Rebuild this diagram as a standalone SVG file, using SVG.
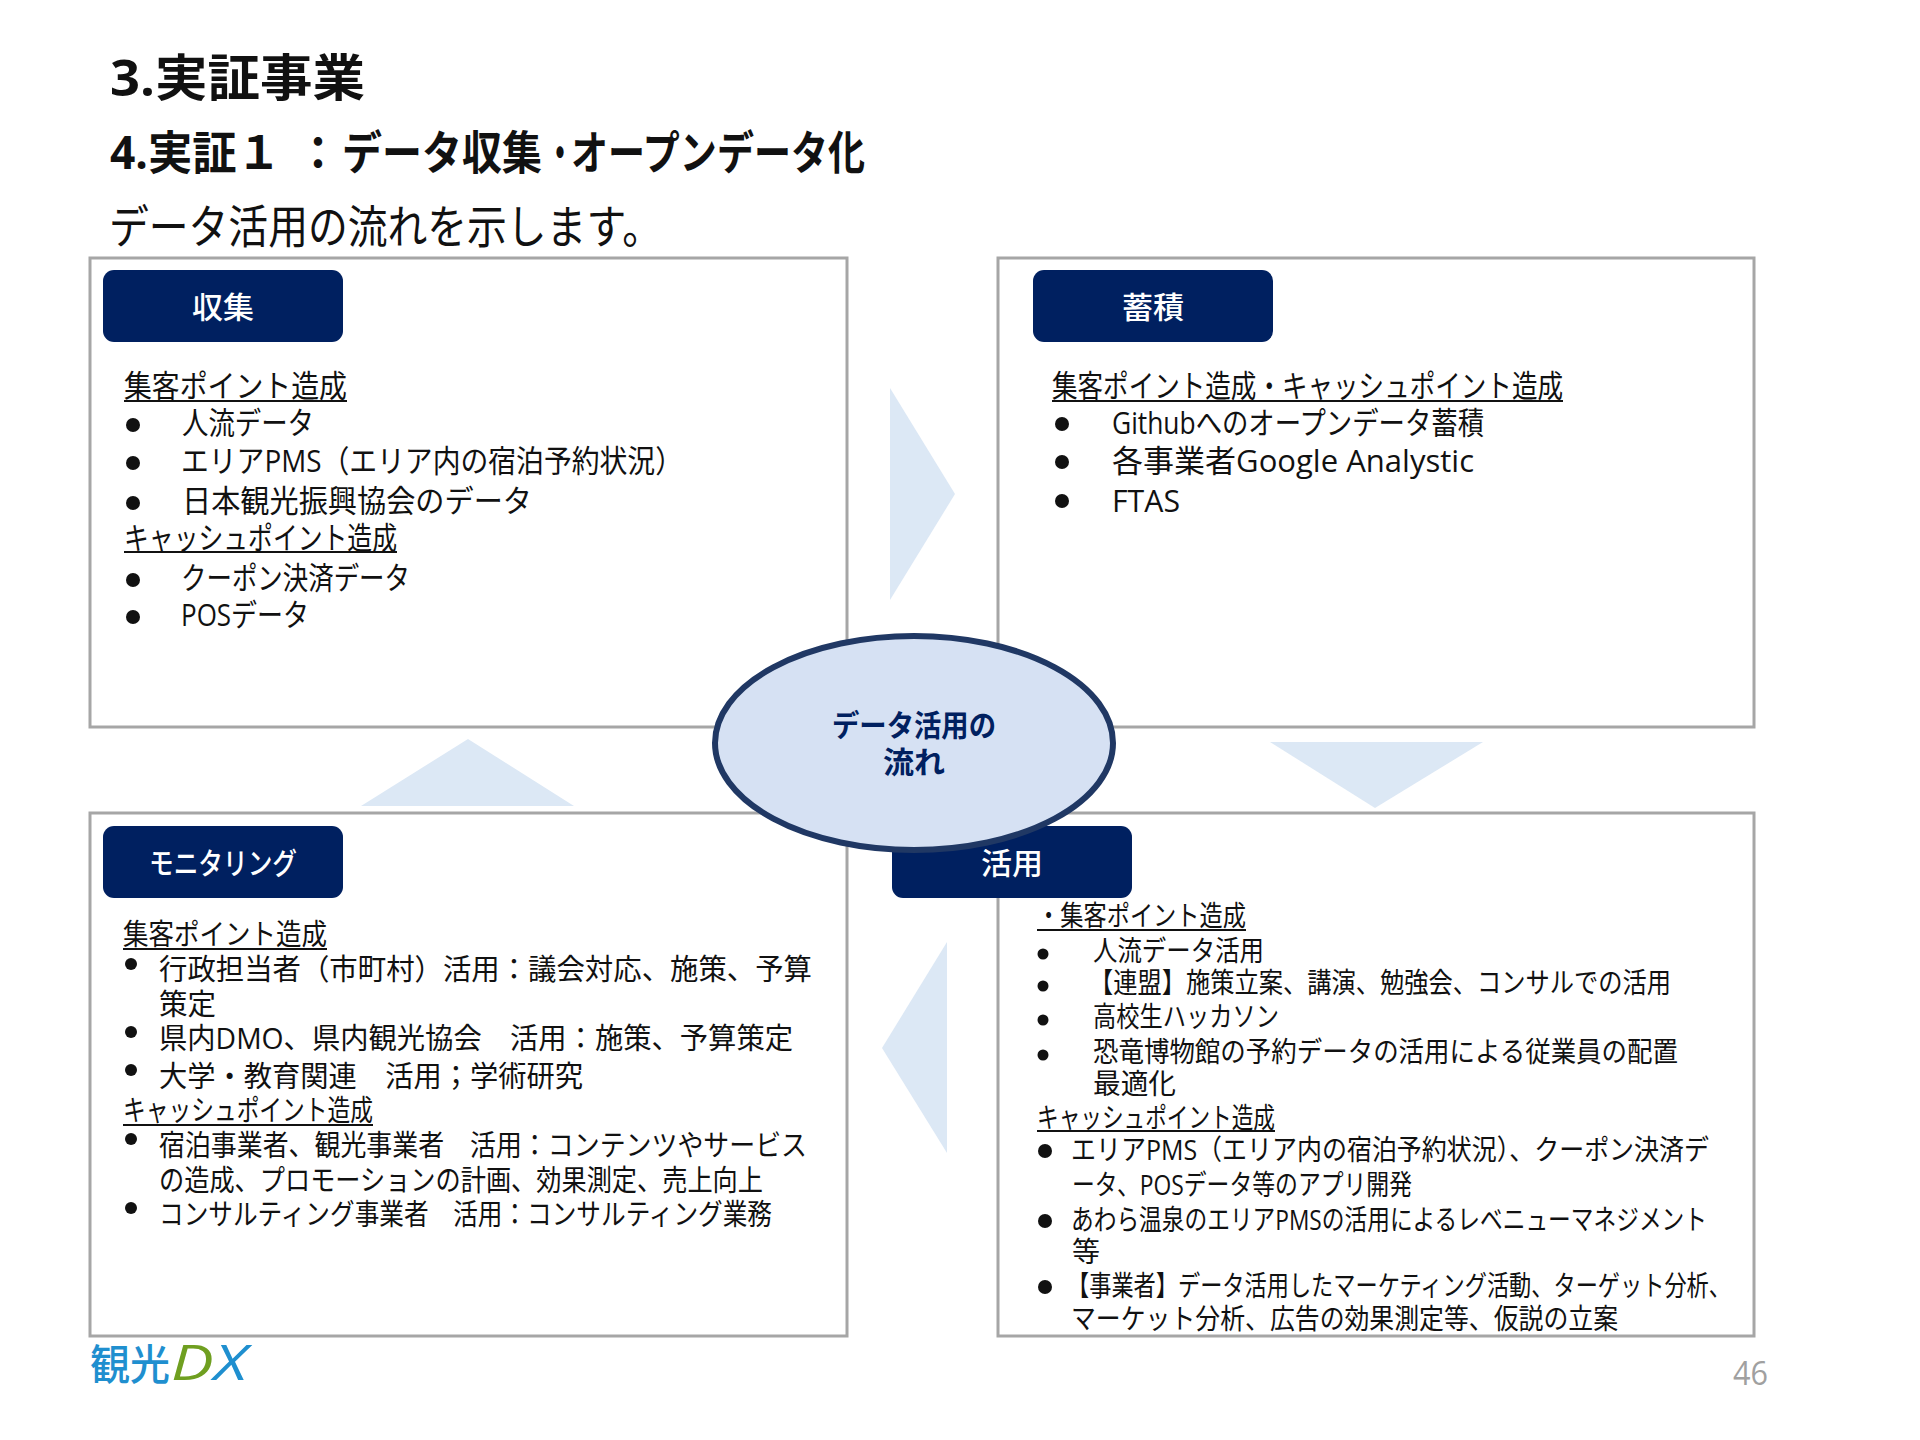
<svg xmlns="http://www.w3.org/2000/svg" width="1920" height="1440" viewBox="0 0 1920 1440">
<style>
text{font-family:"Open Sans","Noto Sans CJK JP",sans-serif;fill:#111}
.h1{font-size:50px;font-weight:700}
.h2{font-size:46px;font-weight:700}
.h3{font-size:46px}
.a{font-size:31px}
.c{font-size:29px}
.d{font-size:28px}
.lab{font-size:30px;font-weight:500;fill:#fff}
.mid{font-size:30px;font-weight:700;fill:#002060}
.pg{font-size:32px;fill:#a0a0a0}
.box{fill:#fff;stroke:#a6a6a6;stroke-width:3}
.tag{fill:#002060}
.arr{fill:#dce8f5}
.ul{stroke:#111;stroke-width:2}
circle{fill:#111}
</style>
<rect width="1920" height="1440" fill="#fff"/>
<g id="title">
<text class="h1" x="110" y="96" textLength="255" lengthAdjust="spacingAndGlyphs">3.実証事業</text>
<text class="h2" y="169"><tspan x="110" textLength="171" lengthAdjust="spacingAndGlyphs">4.実証１</tspan><tspan x="296" textLength="44" lengthAdjust="spacingAndGlyphs">：</tspan><tspan x="342" textLength="200" lengthAdjust="spacingAndGlyphs">データ収集</tspan><tspan x="546" textLength="28" lengthAdjust="spacingAndGlyphs">・</tspan><tspan x="571" textLength="294" lengthAdjust="spacingAndGlyphs">オープンデータ化</tspan></text>
<text class="h3" x="109" y="243" textLength="553" lengthAdjust="spacingAndGlyphs">データ活用の流れを示します。</text>
</g>
<g id="node-collect">
<rect class="box" x="90" y="258" width="757" height="469"/>
<rect class="tag" x="103" y="270" width="240" height="72" rx="11"/>
<text class="lab" x="192" y="318" textLength="62" lengthAdjust="spacingAndGlyphs">収集</text>
<text class="a" x="124" y="397" textLength="223" lengthAdjust="spacingAndGlyphs">集客ポイント造成</text><line class="ul" x1="124" y1="401" x2="347" y2="401"/>
<circle cx="133" cy="425" r="7"/><text class="a" x="182" y="434" textLength="132" lengthAdjust="spacingAndGlyphs">人流データ</text>
<circle cx="133" cy="463" r="7"/><text class="a" x="181" y="472" textLength="502" lengthAdjust="spacingAndGlyphs">エリアPMS（エリア内の宿泊予約状況）</text>
<circle cx="133" cy="503" r="7"/><text class="a" x="182" y="512" textLength="350" lengthAdjust="spacingAndGlyphs">日本観光振興協会のデータ</text>
<text class="a" x="124" y="549" textLength="273" lengthAdjust="spacingAndGlyphs">キャッシュポイント造成</text><line class="ul" x1="124" y1="552" x2="397" y2="552"/>
<circle cx="133" cy="580" r="7"/><text class="a" x="181" y="589" textLength="229" lengthAdjust="spacingAndGlyphs">クーポン決済データ</text>
<circle cx="133" cy="617" r="7"/><text class="a" x="181" y="626" textLength="128" lengthAdjust="spacingAndGlyphs">POSデータ</text>
</g>
<g id="node-store">
<rect class="box" x="998" y="258" width="756" height="469"/>
<rect class="tag" x="1033" y="270" width="240" height="72" rx="11"/>
<text class="lab" x="1122" y="318" textLength="62" lengthAdjust="spacingAndGlyphs">蓄積</text>
<text class="a" x="1052" y="397" textLength="511" lengthAdjust="spacingAndGlyphs">集客ポイント造成・キャッシュポイント造成</text><line class="ul" x1="1052" y1="401" x2="1563" y2="401"/>
<circle cx="1062" cy="424" r="7"/><text class="a" x="1112" y="434" textLength="372" lengthAdjust="spacingAndGlyphs">Githubへのオープンデータ蓄積</text>
<circle cx="1062" cy="462" r="7"/><text class="a" x="1112" y="472" textLength="362" lengthAdjust="spacingAndGlyphs">各事業者Google Analystic</text>
<circle cx="1062" cy="501" r="7"/><text class="a" x="1112" y="512" textLength="68" lengthAdjust="spacingAndGlyphs">FTAS</text>
</g>
<g id="node-monitor">
<rect class="box" x="90" y="813" width="757" height="523"/>
<rect class="tag" x="103" y="826" width="240" height="72" rx="11"/>
<text class="lab" x="149" y="874" textLength="148" lengthAdjust="spacingAndGlyphs">モニタリング</text>
<text class="c" x="123" y="945" textLength="204" lengthAdjust="spacingAndGlyphs">集客ポイント造成</text><line class="ul" x1="123" y1="949" x2="327" y2="949"/>
<circle cx="131" cy="964" r="6"/><text class="c" x="159" y="980" textLength="653" lengthAdjust="spacingAndGlyphs">行政担当者（市町村）活用：議会対応、施策、予算</text>
<text class="c" x="159" y="1015" textLength="57" lengthAdjust="spacingAndGlyphs">策定</text>
<circle cx="131" cy="1032" r="6"/><text class="c" x="159" y="1049" textLength="634" lengthAdjust="spacingAndGlyphs">県内DMO、県内観光協会　活用：施策、予算策定</text>
<circle cx="131" cy="1070" r="6"/><text class="c" x="159" y="1087" textLength="424" lengthAdjust="spacingAndGlyphs">大学・教育関連　活用；学術研究</text>
<text class="c" x="123" y="1121" textLength="250" lengthAdjust="spacingAndGlyphs">キャッシュポイント造成</text><line class="ul" x1="123" y1="1125" x2="373" y2="1125"/>
<circle cx="131" cy="1139" r="6"/><text class="c" x="159" y="1156" textLength="648" lengthAdjust="spacingAndGlyphs">宿泊事業者、観光事業者　活用：コンテンツやサービス</text>
<text class="c" x="159" y="1191" textLength="604" lengthAdjust="spacingAndGlyphs">の造成、プロモーションの計画、効果測定、売上向上</text>
<circle cx="131" cy="1208" r="6"/><text class="c" x="159" y="1225" textLength="613" lengthAdjust="spacingAndGlyphs">コンサルティング事業者　活用：コンサルティング業務</text>
</g>
<g id="node-use">
<rect class="box" x="998" y="813" width="756" height="523"/>
<rect class="tag" x="892" y="826" width="240" height="72" rx="11"/>
<text class="lab" x="981" y="874" textLength="62" lengthAdjust="spacingAndGlyphs">活用</text>
<text class="d" x="1037" y="926" textLength="209" lengthAdjust="spacingAndGlyphs">・集客ポイント造成</text><line class="ul" x1="1037" y1="930" x2="1246" y2="930"/>
<circle cx="1043" cy="954" r="5.5"/><text class="d" x="1093" y="961" textLength="171" lengthAdjust="spacingAndGlyphs">人流データ活用</text>
<circle cx="1043" cy="986" r="5.5"/><text class="d" x="1089" y="993" textLength="582" lengthAdjust="spacingAndGlyphs">【連盟】施策立案、講演、勉強会、コンサルでの活用</text>
<circle cx="1043" cy="1020" r="5.5"/><text class="d" x="1093" y="1027" textLength="186" lengthAdjust="spacingAndGlyphs">高校生ハッカソン</text>
<circle cx="1043" cy="1055" r="5.5"/><text class="d" x="1093" y="1062" textLength="585" lengthAdjust="spacingAndGlyphs">恐竜博物館の予約データの活用による従業員の配置</text>
<text class="d" x="1093" y="1094" textLength="83" lengthAdjust="spacingAndGlyphs">最適化</text>
<text class="d" x="1037" y="1128" textLength="238" lengthAdjust="spacingAndGlyphs">キャッシュポイント造成</text><line class="ul" x1="1037" y1="1131" x2="1275" y2="1131"/>
<circle cx="1045" cy="1151" r="7"/><text class="d" x="1071" y="1160" textLength="638" lengthAdjust="spacingAndGlyphs">エリアPMS（エリア内の宿泊予約状況）、クーポン決済デ</text>
<text class="d" x="1072" y="1195" textLength="340" lengthAdjust="spacingAndGlyphs">ータ、POSデータ等のアプリ開発</text>
<circle cx="1045" cy="1221" r="7"/><text class="d" x="1071" y="1230" textLength="636" lengthAdjust="spacingAndGlyphs">あわら温泉のエリアPMSの活用によるレベニューマネジメント</text>
<text class="d" x="1072" y="1262" textLength="28" lengthAdjust="spacingAndGlyphs">等</text>
<circle cx="1045" cy="1287" r="7"/><text class="d" x="1067" y="1296" textLength="664" lengthAdjust="spacingAndGlyphs">【事業者】データ活用したマーケティング活動、ターゲット分析、</text>
<text class="d" x="1071" y="1329" textLength="547" lengthAdjust="spacingAndGlyphs">マーケット分析、広告の効果測定等、仮説の立案</text>
</g>
<g id="connectors">
<polygon class="arr" points="890,388 955,494 890,600"/>
<polygon class="arr" points="1270,742 1483,742 1375,808"/>
<polygon class="arr" points="947,942 947,1153 882,1048"/>
<polygon class="arr" points="361,806 574,806 468,739"/>
</g>
<g id="node-center">
<ellipse cx="914" cy="743" rx="199" ry="107" fill="#d6e1f3" stroke="#203864" stroke-width="6"/>
<text class="mid" x="832" y="736" textLength="164" lengthAdjust="spacingAndGlyphs">データ活用の</text>
<text class="mid" x="883" y="773" textLength="62" lengthAdjust="spacingAndGlyphs">流れ</text>
</g>
<g id="logo">
<text x="90" y="1380" font-size="42" textLength="80" lengthAdjust="spacingAndGlyphs" style="fill:#1f8fcf;font-weight:500">観光</text>
<text x="171" y="1380" font-size="50" font-style="italic" textLength="76" lengthAdjust="spacingAndGlyphs" style="fill:#6f9f20;font-weight:400">D<tspan style="fill:#1f8fcf">X</tspan></text>
</g>
<text class="pg" x="1733" y="1385" textLength="35" lengthAdjust="spacingAndGlyphs">46</text>
</svg>
